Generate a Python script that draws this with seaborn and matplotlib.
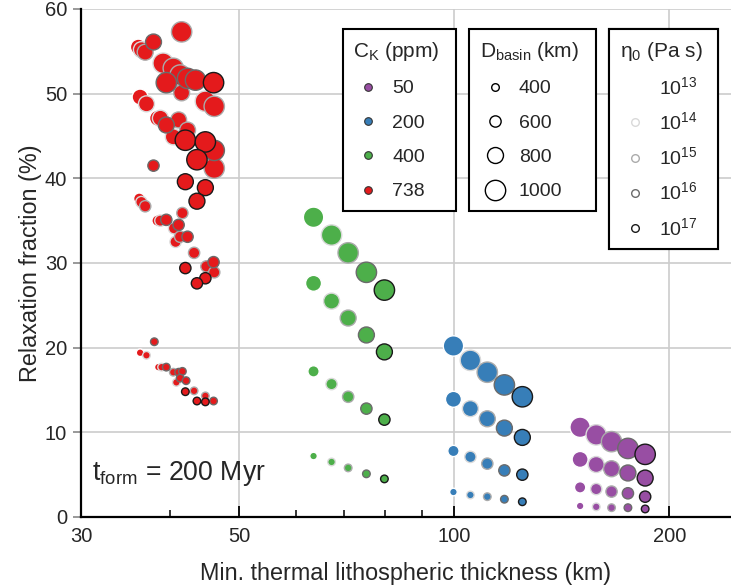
import numpy as np
import pandas as pd
import matplotlib
matplotlib.use("Agg")
import matplotlib.pyplot as plt
import seaborn as sns
from matplotlib.lines import Line2D
from matplotlib.ticker import FixedLocator, FixedFormatter, NullFormatter

# ---------------- data ----------------
ck_levels = [50, 200, 400, 738]
d_levels = [400, 600, 800, 1000]
eta_levels = [13, 14, 15, 16, 17]
eta_row = [13, 14, 15, 16, 17]

# C_K = 50 ppm
thick_50 = [150, 158, 166, 175, 185]
relax_50_d1000 = [10.6, 9.7, 8.9, 8.1, 7.4]
relax_50_d800 = [6.8, 6.2, 5.7, 5.2, 4.6]
relax_50_d600 = [3.5, 3.3, 3.0, 2.8, 2.4]
relax_50_d400 = [1.3, 1.2, 1.1, 1.1, 0.95]

# C_K = 200 ppm
thick_200 = [99.7, 105.3, 111.2, 117.5, 124.5]
relax_200_d1000 = [20.2, 18.5, 17.1, 15.6, 14.2]
relax_200_d800 = [13.9, 12.8, 11.6, 10.5, 9.4]
relax_200_d600 = [7.8, 7.1, 6.3, 5.5, 5.0]
relax_200_d400 = [2.95, 2.6, 2.4, 2.1, 1.8]

# C_K = 400 ppm
thick_400 = [63.5, 67.3, 71.0, 75.3, 79.8]
relax_400_d1000 = [35.4, 33.3, 31.2, 28.9, 26.8]
relax_400_d800 = [27.6, 25.5, 23.5, 21.5, 19.5]
relax_400_d600 = [17.2, 15.7, 14.2, 12.8, 11.5]
relax_400_d400 = [7.2, 6.5, 5.8, 5.1, 4.5]

# C_K = 738 ppm (scattered cloud)
red_thick = [41.5, 39.1, 40.4, 41.3, 42.3, 43.4, 39.5, 46.0, 44.8, 46.1, 42.0, 44.8, 43.6, 46.1, 46.1,
             37.9, 36.1, 36.45, 36.9, 41.5, 36.3, 37.05, 38.4, 38.75, 41.1, 39.5, 42.3, 40.4, 42.0, 44.8, 43.6,
             37.9, 36.2, 36.45, 36.9, 38.4, 38.75, 39.5, 41.6, 40.5, 41.1, 41.3, 40.7, 42.3, 43.2, 42.0, 46.0, 44.95, 46.1, 44.8, 43.6,
             38.0, 36.3, 37.05, 38.5, 38.9, 39.5, 40.4, 41.1, 41.6, 40.8, 41.3, 42.1, 42.0, 43.2, 43.6, 44.8, 44.8, 46.0]
red_relax = [57.3, 53.6, 53.0, 52.2, 51.8, 51.6, 51.3, 51.3, 49.1, 48.5, 44.5, 44.3, 42.2, 43.3, 41.2,
             56.1, 55.5, 55.2, 54.9, 50.1, 49.6, 48.8, 47.1, 47.1, 46.9, 46.3, 45.7, 44.9, 39.6, 38.9, 37.3,
             41.5, 37.6, 37.2, 36.7, 35.0, 35.0, 35.1, 35.9, 34.1, 34.5, 33.1, 32.5, 33.1, 31.2, 29.4, 30.1, 29.6, 28.9, 28.2, 27.6,
             20.7, 19.4, 19.1, 17.7, 17.7, 17.7, 17.1, 17.1, 17.2, 15.9, 16.4, 16.1, 14.8, 14.9, 13.7, 14.3, 13.6, 13.7]
red_d = [1000] * 15 + [800] * 16 + [600] * 20 + [400] * 18
red_eta = [15, 14, 15, 15, 16, 16, 16, 17, 14, 15, 17, 17, 17, 16, 15,
           16, 13, 14, 15, 15, 13, 14, 13, 14, 15, 16, 15, 14, 17, 17, 17,
           16, 13, 14, 15, 13, 14, 16, 15, 14, 16, 15, 14, 16, 15, 17, 16, 15, 15, 17, 17,
           16, 13, 14, 13, 14, 16, 15, 16, 16, 14, 16, 16, 17, 15, 17, 15, 17, 16]

x_label = "Min. thermal lithospheric thickness (km)"
y_label = "Relaxation fraction (%)"
x_ticks = [30, 50, 100, 200]
x_minor = [40, 60, 70, 80, 90]
y_ticks = [0, 10, 20, 30, 40, 50, 60]

# ---------------- build table ----------------
rows = []
regular = {
    50: (thick_50, {1000: relax_50_d1000, 800: relax_50_d800, 600: relax_50_d600, 400: relax_50_d400}),
    200: (thick_200, {1000: relax_200_d1000, 800: relax_200_d800, 600: relax_200_d600, 400: relax_200_d400}),
    400: (thick_400, {1000: relax_400_d1000, 800: relax_400_d800, 600: relax_400_d600, 400: relax_400_d400}),
}
for ck, (xs, ys_by_d) in regular.items():
    for d, ys in ys_by_d.items():
        for xv, yv, e in zip(xs, ys, eta_row):
            rows.append((ck, d, e, xv, yv))
for xv, yv, d, e in zip(red_thick, red_relax, red_d, red_eta):
    rows.append((738, d, e, xv, yv))
df = pd.DataFrame(rows, columns=["ck", "d", "eta", "thick", "relax"])
df = df.sort_values("eta", kind="stable").reset_index(drop=True)

palette = {50: "#984ea3", 200: "#377eb8", 400: "#4daf4a", 738: "#e41a1c"}
sizes = {400: 30, 600: 66, 800: 132, 1000: 215}
edge = {13: "#ffffff", 14: "#d9d9d9", 15: "#ababab", 16: "#6b6b6b", 17: "#1a1a1a"}

# ---------------- style ----------------
sns.set_theme(style="white")
plt.rcParams["font.family"] = ["Liberation Sans", "DejaVu Sans"]
plt.rcParams["mathtext.fontset"] = "custom"
plt.rcParams["mathtext.rm"] = "Liberation Sans"
plt.rcParams["mathtext.it"] = "Liberation Sans:italic"
plt.rcParams["mathtext.bf"] = "Liberation Sans:bold"

W, H = 731, 587
fig = plt.figure(figsize=(W / 100, H / 100), dpi=100)
ax = fig.add_axes([81 / W, 70 / H, 650 / W, 508 / H])

sns.scatterplot(data=df, x="thick", y="relax", hue="ck", size="d",
                palette=palette, sizes=sizes, hue_order=ck_levels, size_order=d_levels,
                edgecolor=[edge[e] for e in df["eta"]], linewidth=1.0,
                legend=False, ax=ax, zorder=3)

ax.set_xscale("log")
ax.set_xlim(30, 244)
ax.set_ylim(0, 60)
ax.xaxis.set_major_locator(FixedLocator(x_ticks))
ax.xaxis.set_major_formatter(FixedFormatter([str(t) for t in x_ticks]))
ax.xaxis.set_minor_locator(FixedLocator(x_minor))
ax.xaxis.set_minor_formatter(NullFormatter())
ax.set_yticks(y_ticks)

ax.grid(True, which="major", color="#cccccc", linewidth=1.2, zorder=0)
ax.set_axisbelow(True)
for s in ["top", "right"]:
    ax.spines[s].set_visible(False)
for s in ["left", "bottom"]:
    ax.spines[s].set_color("black")
    ax.spines[s].set_linewidth(1.6)

ax.tick_params(axis="x", which="major", direction="in", length=8, width=1.3, color="black",
               labelsize=14.5, pad=7, bottom=True)
ax.tick_params(axis="x", which="minor", direction="in", length=5, width=1.1, color="black", bottom=True)
ax.tick_params(axis="y", which="major", direction="out", length=6, width=1.2, color="#888888",
               labelsize=14.5, pad=4, left=True)

ax.set_xlabel(x_label, fontsize=16.8, labelpad=12)
ax.set_ylabel(y_label, fontsize=16.8, labelpad=2)

ax.text(0.017, 0.086, r"t$_\mathrm{form}$ = 200 Myr", transform=ax.transAxes,
        fontsize=19.2, va="center", ha="left")

# ---------------- legends ----------------
def add_legend(handles, labels, title, x0, y0, w, spacing):
    lg = ax.legend(handles, labels, title=title, loc="upper left",
                   bbox_to_anchor=(x0 / W, 1 - (y0 + 10) / H, w / W, 10 / H),
                   bbox_transform=fig.transFigure, mode="expand", borderaxespad=0,
                   frameon=True, fancybox=False, edgecolor="black", framealpha=1,
                   fontsize=14, title_fontsize=15, handlelength=1.5, handletextpad=0.5,
                   borderpad=0.55, labelspacing=spacing)
    lg.get_frame().set_linewidth(1.5)
    lg._legend_box.align = "left"
    ax.add_artist(lg)
    return lg

h_ck = [Line2D([], [], marker="o", ls="none", markerfacecolor=palette[c], markeredgecolor="#333333",
               markeredgewidth=0.8, markersize=5.5) for c in ck_levels]
add_legend(h_ck, [str(c) for c in ck_levels], r"C$_\mathrm{K}$ (ppm)", 342.5, 29.3, 113, 0.86)

h_d = [Line2D([], [], marker="o", ls="none", markerfacecolor="white", markeredgecolor="black",
              markeredgewidth=1.0, markersize=np.sqrt(sizes[d])) for d in d_levels]
add_legend(h_d, [str(d) for d in d_levels], r"D$_\mathrm{basin}$ (km)", 469.3, 29.3, 126.4, 0.86)

h_e = [Line2D([], [], marker="o", ls="none", markerfacecolor="white", markeredgecolor=edge[e],
              markeredgewidth=1.0, markersize=5.5) for e in eta_levels]
add_legend(h_e, [r"10$^{%d}$" % e for e in eta_levels], r"η$_\mathrm{0}$ (Pa s)", 609.3, 29.3, 109, 0.68)

fig.savefig("out.png", dpi=100)
